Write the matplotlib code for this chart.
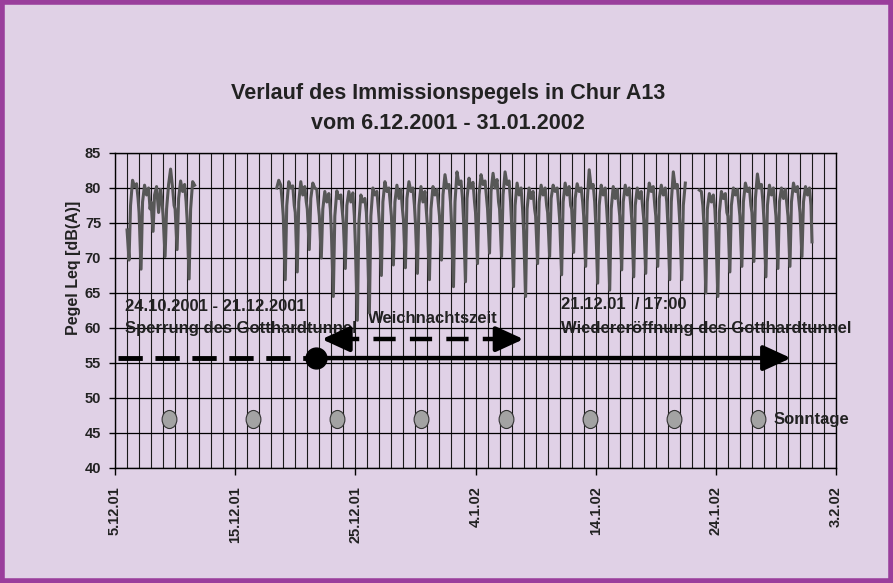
import numpy as np
import pandas as pd
import matplotlib
matplotlib.use("Agg")
import matplotlib.pyplot as plt
import matplotlib.dates as mdates
from matplotlib.patches import Rectangle
from matplotlib.path import Path
from matplotlib.ticker import FuncFormatter

plt.rcParams["font.family"] = ["Liberation Sans", "DejaVu Sans"]
plt.rcParams["font.weight"] = "bold"

NaN = np.nan

# Messwerte Leq [dB(A)], eine Zeile pro Tag ab 6.12.2001, Werte zu den Stunden unten
erster_tag = pd.Timestamp("2001-12-06")
stunden = [0, 4, 7, 11, 15, 19, 22]
pegel = [
    [74.0, 69.7, 77.5, 81.1, 80.2, 80.6, 78.5],  # 6.12.
    [76.5, 68.4, 78.0, 80.4, 79.0, 80.0, 77.0],
    [78.0, 73.8, 79.0, 80.2, 76.5, 79.8, 78.0],
    [76.0, 70.2, 77.0, 80.5, 82.7, 80.0, 77.5],
    [77.0, 71.2, 78.5, 81.0, 79.5, 80.5, 78.0],
    [75.5, 67.0, 77.0, 80.9, 80.4, NaN, NaN],    # 11.12.
    [NaN, NaN, NaN, NaN, NaN, NaN, NaN],
    [NaN, NaN, NaN, NaN, NaN, NaN, NaN],
    [NaN, NaN, NaN, NaN, NaN, NaN, NaN],
    [NaN, NaN, NaN, NaN, NaN, NaN, NaN],
    [NaN, NaN, NaN, NaN, NaN, NaN, NaN],
    [NaN, NaN, NaN, NaN, NaN, NaN, NaN],
    [NaN, NaN, NaN, 80.0, 81.1, 80.4, 78.0],     # 18.12.
    [76.0, 66.9, 77.5, 80.9, 80.0, 80.3, 77.5],
    [76.5, 68.0, 78.0, 80.9, 79.0, 80.2, 78.0],
    [77.0, 71.2, 78.5, 80.7, 80.0, 79.8, 77.5],
    [76.0, 70.0, 77.0, 79.5, 78.0, 79.2, 77.0],
    [74.0, 64.5, 76.0, 79.6, 78.5, 79.0, 76.5],
    [75.0, 68.5, 77.5, 79.5, 78.0, 79.3, 76.0],
    [72.0, 61.1, 75.0, 79.0, 78.0, 78.5, 76.5],  # 25.12.
    [73.0, 62.2, 76.0, 80.0, 79.0, 79.5, 77.0],
    [75.0, 67.5, 78.0, 80.9, 79.5, 80.0, 77.5],
    [76.0, 69.0, 78.0, 80.4, 78.5, 79.8, 77.0],
    [75.5, 68.6, 78.5, 80.9, 79.5, 80.0, 77.5],
    [75.0, 67.8, 77.5, 80.2, 78.0, 79.5, 76.5],
    [74.5, 66.9, 77.0, 80.2, 79.0, 79.8, 77.5],
    [76.0, 69.7, 79.0, 81.9, 80.0, 80.5, 78.0],  # 1.1.
    [75.0, 65.9, 78.0, 82.3, 80.5, 81.0, 78.5],
    [75.5, 66.6, 78.5, 81.4, 80.0, 80.8, 78.0],
    [76.5, 69.2, 79.0, 81.9, 80.5, 81.0, 78.5],
    [77.0, 70.7, 79.5, 82.1, 80.0, 81.2, 78.0],
    [77.0, 70.2, 79.0, 82.3, 80.5, 81.0, 78.0],
    [75.0, 65.9, 77.5, 80.7, 79.0, 80.0, 77.0],
    [74.0, 64.5, 77.0, 80.0, 78.5, 79.5, 77.0],
    [76.0, 69.2, 78.0, 80.4, 79.0, 80.0, 77.5],
    [76.5, 70.2, 78.5, 80.4, 79.5, 80.0, 77.5],
    [75.5, 67.6, 78.0, 80.7, 79.0, 80.2, 77.5],  # 11.1.
    [77.0, 70.8, 78.5, 80.6, 79.5, 80.0, 78.0],
    [76.0, 68.8, 78.0, 82.6, 80.0, 80.5, 78.0],
    [75.0, 66.4, 77.5, 80.4, 79.0, 80.0, 77.0],
    [74.5, 65.4, 77.0, 80.2, 78.5, 79.8, 77.5],
    [76.0, 68.3, 78.0, 80.4, 79.0, 80.0, 77.5],
    [75.5, 67.3, 77.5, 80.0, 78.5, 79.5, 77.0],
    [75.5, 67.8, 78.0, 80.7, 79.5, 80.2, 77.5],
    [76.0, 68.8, 78.5, 80.4, 79.0, 80.0, 78.0],
    [75.0, 66.9, 78.0, 82.3, 80.0, 80.5, 77.5],
    [75.0, 66.9, 77.5, 80.7, NaN, NaN, NaN],     # 21.1.
    [NaN, NaN, NaN, NaN, 79.7, 79.5, 77.5],
    [75.0, 65.0, 77.0, 79.2, 78.0, 79.0, 77.0],
    [74.0, 64.5, 76.5, 79.5, 78.5, 79.2, 76.5],
    [76.0, 68.0, 77.5, 80.0, 79.0, 79.8, 77.5],
    [76.0, 68.8, 78.0, 80.7, 79.5, 80.0, 77.5],
    [76.5, 69.5, 78.5, 82.0, 80.0, 80.5, 78.0],
    [75.5, 67.3, 77.5, 80.4, 79.0, 80.0, 77.5],
    [76.0, 68.5, 78.0, 80.0, 78.5, 79.8, 77.5],
    [76.0, 68.8, 78.0, 80.7, 79.5, 80.2, 78.0],
    [76.5, 70.2, 78.0, 80.2, 79.0, 80.0, 77.5],
    [72.3, NaN, NaN, NaN, NaN, NaN, NaN],        # 2.2.
]

sonntage = ["2001-12-09", "2001-12-16", "2001-12-23", "2001-12-30",
            "2002-01-06", "2002-01-13", "2002-01-20", "2002-01-27"]
sonntag_pegel = 47

sperrung_start = pd.Timestamp("2001-12-05 05:00")
sperrung_ende = pd.Timestamp("2001-12-21 17:00")
pfeil_ende = pd.Timestamp("2002-01-30 06:00")
tunnel_pegel = 55.7
weihnacht_start = pd.Timestamp("2001-12-22 05:00")
weihnacht_ende = pd.Timestamp("2002-01-08 00:00")
weihnacht_pegel = 58.4

# Build time axis from the table
zeiten, werte = [], []
for i, zeile in enumerate(pegel):
    for h, v in zip(stunden, zeile):
        zeiten.append(erster_tag + pd.Timedelta(days=i, hours=h))
        werte.append(v)
serie = pd.Series(werte, index=zeiten)

bg = "#E0D1E6"
fig = plt.figure(figsize=(8.93, 5.83), dpi=100, facecolor=bg)
ax = fig.add_axes([0.1288, 0.1973, 0.8074, 0.5403])
ax.set_facecolor(bg)

# Purple frame
fig.patches.append(Rectangle((0.002, 0.003), 0.996, 0.994, transform=fig.transFigure,
                             fill=False, edgecolor="#9A3E9C", linewidth=4))

# Messreihe
ax.plot(serie.index, serie.values, color="#575757", linewidth=2.2, zorder=4)

# Sonntage (slightly upright ellipses)
kreis = Path.unit_circle()
ellipse = Path(kreis.vertices * np.array([0.82, 1.0]), kreis.codes)
ax.plot(pd.to_datetime(sonntage) + pd.Timedelta(hours=12), [sonntag_pegel] * len(sonntage),
        linestyle="none", marker=ellipse, markersize=13, markerfacecolor="#A3A3A3",
        markeredgecolor="#333333", markeredgewidth=0.8, zorder=5)
ax.text(pd.Timestamp("2002-01-28 19:00"), sonntag_pegel - 0.1, "Sonntage",
        fontsize=12, fontweight="bold", va="center", ha="left", color="#222222")

# Sperrung / Wiedereröffnung
ax.plot([sperrung_start, sperrung_ende], [tunnel_pegel, tunnel_pegel], color="black",
        linewidth=3.5, linestyle=(0, (5, 2.6)), dash_capstyle="butt", zorder=5)
ax.annotate("", xy=(pfeil_ende, tunnel_pegel), xytext=(sperrung_ende, tunnel_pegel),
            arrowprops=dict(arrowstyle="-|>,head_length=1.2,head_width=0.55",
                            lw=3.2, color="black", mutation_scale=14,
                            shrinkA=0, shrinkB=0), zorder=5)
ax.plot(sperrung_ende, tunnel_pegel, "o", markersize=15, color="black", zorder=6)

# Weihnachtszeit
ax.plot([weihnacht_start + pd.Timedelta(hours=30), weihnacht_ende - pd.Timedelta(hours=30)],
        [weihnacht_pegel, weihnacht_pegel], color="black", linewidth=3.2,
        linestyle=(0, (5, 3.2)), dash_capstyle="butt", zorder=5)
for spitze, rueck in [(weihnacht_start, pd.Timedelta(hours=30)),
                      (weihnacht_ende, -pd.Timedelta(hours=30))]:
    ax.annotate("", xy=(spitze, weihnacht_pegel), xytext=(spitze + rueck, weihnacht_pegel),
                arrowprops=dict(arrowstyle="-|>,head_length=1.2,head_width=0.55",
                                lw=3.2, color="black", mutation_scale=14,
                                shrinkA=0, shrinkB=0), zorder=5)

txt = dict(fontsize=12, fontweight="bold", color="#222222", va="center", ha="left")
ax.text(pd.Timestamp("2001-12-05 20:00"), 63.1, "24.10.2001 - 21.12.2001", **txt)
ax.text(pd.Timestamp("2001-12-05 20:00"), 59.9, "Sperrung des Gotthardtunnel", **txt)
ax.text(pd.Timestamp("2001-12-31 10:00"), 61.4, "Weichnachtszeit",
        **{**txt, "ha": "center"})
ax.text(pd.Timestamp("2002-01-11 02:00"), 63.3, "21.12.01  / 17:00", **txt)
ax.text(pd.Timestamp("2002-01-11 02:00"), 59.9, "Wiedereröffnung des Gotthardtunnel", **txt)

# Axes
ax.set_xlim(pd.Timestamp("2001-12-05"), pd.Timestamp("2002-02-03"))
ax.set_ylim(40, 85)
ax.set_yticks(range(40, 90, 5))
ax.set_xticks(pd.date_range("2001-12-05", "2002-02-03", freq="10D"))
ax.xaxis.set_minor_locator(mdates.DayLocator())


def datum(x, pos):
    d = mdates.num2date(x)
    return f"{d.day}.{d.month}.{d:%y}"


ax.xaxis.set_major_formatter(FuncFormatter(datum))
ax.tick_params(axis="x", which="major", rotation=90, labelsize=10.5, length=5,
               width=1, pad=8, colors="black", labelcolor="#222222")
ax.tick_params(axis="x", which="minor", length=0)
ax.tick_params(axis="y", labelsize=10.5, length=4, width=1, pad=6, labelcolor="#222222")
for lab in ax.get_xticklabels() + ax.get_yticklabels():
    lab.set_fontweight("bold")

ax.grid(True, axis="y", color="black", linewidth=0.9)
ax.grid(True, axis="x", which="both", color="#1A1A1A", linewidth=0.8)
ax.set_axisbelow(True)
for s in ax.spines.values():
    s.set_color("black")
    s.set_linewidth(1.0)

ax.set_ylabel("Pegel Leq [dB(A)]", fontsize=11.5, fontweight="bold", color="#222222",
              va="center")
ax.yaxis.set_label_coords(-0.058, 0.635)

fig.text(0.5017, 0.840, "Verlauf des Immissionspegels in Chur A13", ha="center",
         va="center", fontsize=15.5, fontweight="bold", color="#222222")
fig.text(0.5017, 0.789, "vom 6.12.2001 - 31.01.2002", ha="center", va="center",
         fontsize=15.5, fontweight="bold", color="#222222")

fig.savefig("out.png", dpi=100, facecolor=bg)
